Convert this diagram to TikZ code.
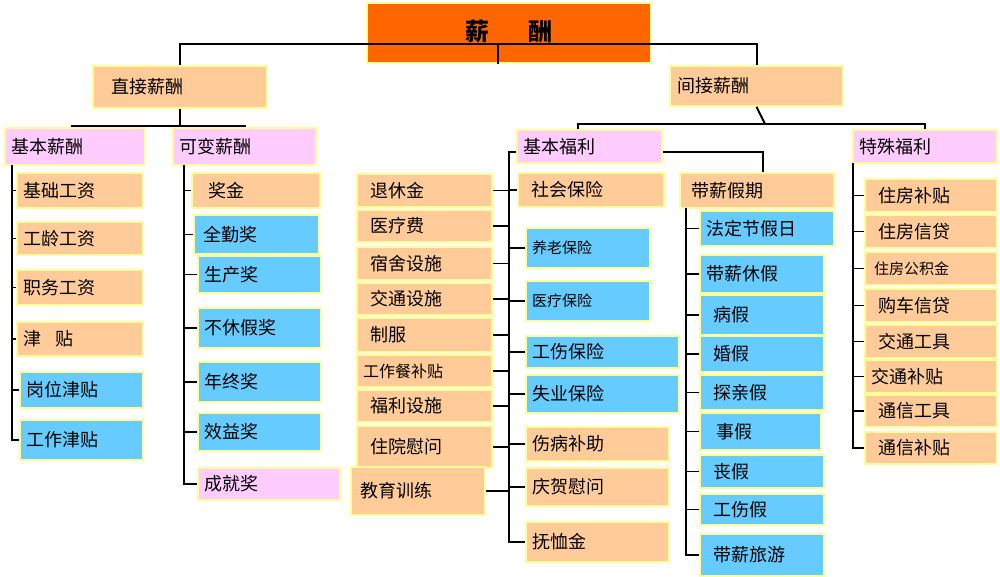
\documentclass[tikz,border=0pt]{standalone}
\usepackage{fontspec}
\setmainfont{Noto Sans CJK SC}
\definecolor{og}{HTML}{FFCC99}
\definecolor{bl}{HTML}{66CCFF}
\definecolor{pk}{HTML}{FFCCFF}
\definecolor{tp}{HTML}{FF6600}
\definecolor{yb}{HTML}{FFFF99}
\tikzset{box/.style={draw=yb,line width=1.5pt,inner xsep=6pt,inner ysep=0pt,align=left,font=\fontsize{18}{20}\selectfont},
ln/.style={draw=black,line width=2pt},
tk/.style={draw=black,line width=1.5pt}}
\newcommand\bx[7]{\pgfmathsetmacro\bw{#4-#2}\pgfmathsetmacro\bh{#5-#3}\pgfmathsetmacro\tw{#4-#2-12}%
\node[box,fill=#6,minimum width=\bw pt,minimum height=\bh pt,text width=\tw pt] (#1) at ({(#2+#4)/2},{(#3+#5)/2}) {#7};}
\begin{document}
\begin{tikzpicture}[x=1pt,y=-1pt]
\useasboundingbox[fill=white] (0,0) rectangle (1000,577);
% top
\node[box,fill=tp,minimum width=284pt,minimum height=60pt,align=center,font=\fontsize{24}{26}\selectfont\bfseries,anchor=center] (top) at (509,33) {\raisebox{6pt}{薪\hspace{1.6em}酬}};
\bx{zj}{93}{66}{267}{108}{og}{\hspace{0.7em}直接薪酬}
\bx{jj}{670}{66}{843}{106}{og}{\hspace{0.1em}间接薪酬}
\draw[ln] (top.south -| 498,0) -- (498,45);
\draw[ln] (zj.north) -- ++(0,-21) -| (jj.north);
% direct
\bx{jbxc}{5}{128}{145}{165}{pk}{基本薪酬}
\bx{kbxc}{173}{128}{316}{165}{pk}{可变薪酬}
\draw[ln] (zj.south) -- ++(0,17) coordinate (h0);
\draw[ln] (jbxc.north -| 72,0) |- (h0) -| (kbxc.north -| 245,0);
\bx{a1}{17}{173}{143}{208}{og}{基础工资}
\bx{a2}{17}{222}{143}{255}{og}{工龄工资}
\bx{a3}{17}{270}{143}{305}{og}{职务工资}
\bx{a4}{17}{322}{143}{356}{og}{津\hspace{0.8em}贴}
\bx{a5}{20}{372}{143}{408}{bl}{岗位津贴}
\bx{a6}{20}{420}{143}{460}{bl}{工作津贴}
\coordinate (ta) at (12,165);
\draw[ln] (ta) |- (a6.west);
\foreach \c in {a1,a2,a3,a4,a5}{\draw[tk] (\c.west) -- (\c.west -| ta);}
\bx{b1}{192}{173}{320}{208}{og}{\hspace{0.6em}奖金}
\bx{b2}{194}{215}{319}{254}{bl}{\hspace{0.2em}全勤奖}
\bx{b3}{198}{256}{321}{293}{bl}{生产奖}
\bx{b4}{198}{308}{321}{348}{bl}{不休假奖}
\bx{b5}{198}{362}{321}{402}{bl}{年终奖}
\bx{b6}{198}{413}{321}{451}{bl}{效益奖}
\bx{b7}{198}{468}{340}{500}{pk}{成就奖}
\coordinate (tb) at (184,165);
\draw[ln] (tb) |- (b7.west);
\foreach \c in {b1,b2,b3,b4,b5,b6}{\draw[tk] (\c.west) -- (\c.west -| tb);}
% indirect
\bx{jbfl}{517}{130}{662}{163}{pk}{基本福利}
\bx{tsfl}{853}{130}{997}{163}{pk}{特殊福利}
\bx{dxjq}{680}{173}{834}{208}{og}{\hspace{0.3em}带薪假期}
\coordinate (h2) at (765,124);
\draw[ln] (jj.south) -- (h2);
\draw[ln] (jbfl.north -| 578,0) |- (h2) -| (tsfl.north);
\draw[ln] (jbfl.east |- 0,152) -| (dxjq.north -| 763,0);
% basic welfare
\bx{c1}{357}{174}{492}{207}{og}{\hspace{0.4em}退休金}
\bx{c2}{357}{210}{492}{242}{og}{\hspace{0.4em}医疗费}
\bx{c3}{357}{247}{492}{280}{og}{\hspace{0.4em}宿舍设施}
\bx{c4}{357}{283}{492}{315}{og}{\hspace{0.4em}交通设施}
\bx{c5}{357}{318}{492}{352}{og}{\hspace{0.4em}制服}
\bx{c6}{357}{355}{492}{387}{og}{\fontsize{16}{18}\selectfont 工作餐补贴}
\bx{c7}{357}{390}{492}{422}{og}{\hspace{0.4em}福利设施}
\bx{c8}{357}{426}{492}{468}{og}{\hspace{0.4em}住院慰问}
\bx{c9}{351}{467}{485}{515}{og}{\hspace{0.2em}教育训练}
\bx{d1}{518}{173}{664}{207}{og}{\hspace{0.4em}社会保险}
\bx{d2}{526}{228}{650}{268}{bl}{\fontsize{15}{17}\selectfont 养老保险}
\bx{d3}{526}{281}{650}{321}{bl}{\fontsize{15}{17}\selectfont 医疗保险}
\bx{d4}{526}{336}{679}{368}{bl}{工伤保险}
\bx{d5}{526}{375}{679}{413}{bl}{失业保险}
\bx{d6}{526}{427}{669}{461}{og}{伤病补助}
\bx{d7}{526}{468}{669}{506}{og}{庆贺慰问}
\bx{d8}{526}{522}{669}{562}{og}{抚恤金}
\coordinate (tc) at (509,152);
\draw[ln] (jbfl.west |- tc) -- (tc) |- (d8.west);
\foreach \c in {d1,d2,d3,d4,d5,d6,d7}{\draw[tk] (\c.west) -- (\c.west -| tc);}
\foreach \c in {c1,c2,c3,c4,c5,c6,c7,c8,c9}{\draw[tk] (\c.east) -- (\c.east -| tc);}
% paid holidays
\bx{e1}{700}{211}{834}{246}{bl}{法定节假日}
\bx{e2}{700}{255}{824}{293}{bl}{带薪休假}
\bx{e3}{700}{295}{824}{335}{bl}{\hspace{0.4em}病假}
\bx{e4}{700}{336}{824}{372}{bl}{\hspace{0.4em}婚假}
\bx{e5}{700}{375}{824}{410}{bl}{\hspace{0.4em}探亲假}
\bx{e6}{700}{413}{821}{450}{bl}{\hspace{0.6em}事假}
\bx{e7}{700}{455}{824}{488}{bl}{\hspace{0.4em}丧假}
\bx{e8}{700}{494}{824}{525}{bl}{\hspace{0.4em}工伤假}
\bx{e9}{700}{534}{824}{576}{bl}{\hspace{0.4em}带薪旅游}
\coordinate (te) at (686,208);
\draw[ln] (te) |- (e9.west);
\foreach \c in {e1,e2,e3,e4,e5,e6,e7,e8}{\draw[tk] (\c.west) -- (\c.west -| te);}
% special welfare
\bx{f1}{865}{179}{997}{212}{og}{\hspace{0.4em}住房补贴}
\bx{f2}{865}{215}{997}{248}{og}{\hspace{0.4em}住房信贷}
\bx{f3}{865}{252}{997}{285}{og}{\fontsize{15}{17}\selectfont\hspace{0.2em}住房公积金}
\bx{f4}{865}{289}{997}{322}{og}{\hspace{0.4em}购车信贷}
\bx{f5}{865}{325}{997}{358}{og}{\hspace{0.4em}交通工具}
\bx{f6}{865}{360}{997}{393}{og}{交通补贴}
\bx{f7}{865}{395}{997}{427}{og}{\hspace{0.4em}通信工具}
\bx{f8}{865}{432}{997}{464}{og}{\hspace{0.4em}通信补贴}
\coordinate (tf) at (853,163);
\draw[ln] (tf) |- (f8.west);
\foreach \c in {f1,f2,f3,f4,f5,f6,f7}{\draw[tk] (\c.west) -- (\c.west -| tf);}
\end{tikzpicture}
\end{document}
